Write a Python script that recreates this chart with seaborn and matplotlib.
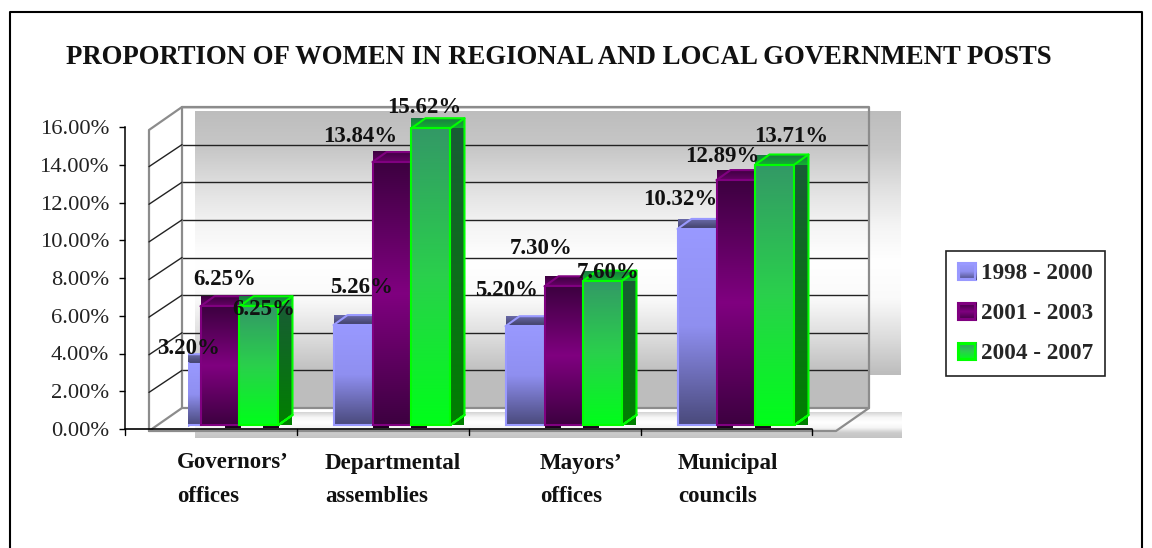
import numpy as np
import pandas as pd
import matplotlib
matplotlib.use('Agg')
import matplotlib.pyplot as plt
import seaborn as sns
from matplotlib.colors import LinearSegmentedColormap
from matplotlib.patches import Patch, Rectangle
from matplotlib.ticker import FuncFormatter

# Data
posts = ['Governors', 'Departmental', 'Mayors', 'Municipal']
periods = ['1998 - 2000', '2001 - 2003', '2004 - 2007']
share_1998 = [3.20, 5.26, 5.20, 10.32]
share_2001 = [6.25, 13.84, 7.30, 12.89]
share_2004 = [6.25, 15.62, 7.60, 13.71]
post_labels = ["Governors’\noffices", 'Departmental\nassemblies', "Mayors’\noffices", 'Municipal\ncouncils']
title = 'PROPORTION OF WOMEN IN REGIONAL AND LOCAL GOVERNMENT POSTS'

# Pixel layout of the picture
W, H = 1152, 548
px_per_group = 172
px_per_unit = 19
bar_base = 425
depth_x, depth_y = 14, 10

# Offset of every value label from the top centre of its bar, in pixels
label_offsets = [(8, 16), (5, 27), (5, -3),
                 (8, 38), (-32, 26), (-7, 21),
                 (-19, 36), (-23, 38), (5, 8),
                 (-17, 29), (-14, 24), (16, 28)]

df = pd.DataFrame({
    'post': posts * 3,
    'period': np.repeat(periods, 4),
    'share': share_1998 + share_2001 + share_2004,
})

sns.set_theme(style='white')
plt.rcParams['font.family'] = ['Liberation Serif', 'DejaVu Serif']
plt.rcParams['axes.facecolor'] = 'none'

fig = plt.figure(figsize=(W / 100, H / 100), dpi=100, facecolor='white')


def px_axes(x0, y0, x1, y1, z):
    a = fig.add_axes([x0 / W, 1 - y1 / H, (x1 - x0) / W, (y1 - y0) / H], zorder=z)
    a.patch.set_alpha(0)
    return a


def cmap(*colors):
    return LinearSegmentedColormap.from_list('c', colors)


def vgrad(a, colors, extent, z):
    g = np.linspace(0, 1, 128).reshape(-1, 1)
    a.imshow(g, cmap=cmap(*colors), extent=extent, aspect='auto', zorder=z, vmin=0, vmax=1)


# Full picture layer: border, grey band behind the wall, floor
bg = px_axes(0, 0, W, H, 0)
grey_band = ['#bdbdbd', '#c8c8c8', '#e0e0e0', '#f4f4f4', '#ffffff', '#fafafa', '#dddddd', '#bdbdbd']
vgrad(bg, grey_band, [195, 901, 375, 111], 1)
bg.add_patch(Rectangle((195, 375), 674, 33, color='#bdbdbd', lw=0, zorder=1))
vgrad(bg, ['#d4d4d4', '#f6f6f6', '#ffffff', '#f6f6f6', '#cccccc', '#c4c4c4'], [195, 902, 438, 412], 1)
bg.set_xlim(0, W)
bg.set_ylim(H, 0)
bg.axis('off')
bg.plot([10, 10, 1142, 1142], [H, 12, 12, H], color='black', lw=1.5)
bg.text(66, 57, title, fontsize=19.25, fontweight='bold', color='#111111', va='center', ha='left')

# Back wall with the gridlines
wall = px_axes(182, 107, 869, 408, 1)
wall.set_xlim(0, 1)
wall.set_ylim(0, 16)
wall.set_xticks([])
wall.set_yticks(range(0, 17, 2))
wall.tick_params(left=False, labelleft=False)
wall.grid(axis='y', color='#222222', lw=1)
wall.set_axisbelow(False)
sns.despine(ax=wall, left=True, bottom=True)

# Front scale with the tick labels
front = px_axes(125, 127, 812, 429, 2)
front.set_ylim(0, 16)
front.set_xlim(0, 1)
front.set_yticks(np.arange(0, 17, 2))
front.yaxis.set_major_formatter(FuncFormatter(lambda v, _: f'{v:.2f}%'))
front.set_xticks([])
front.tick_params(axis='y', labelsize=16.2, left=True, length=4.5, width=1, color='black', pad=7,
                  labelcolor='#222222')
front.spines['left'].set_color('black')
front.spines['left'].set_linewidth(1.1)
sns.despine(ax=front, bottom=True)

# Outline of the box, axis line, category labels
lines = px_axes(0, 0, W, H, 2)
lines.set_xlim(0, W)
lines.set_ylim(H, 0)
lines.axis('off')
grey = '#8c8c8c'
lines.plot([149, 149, 182, 869, 869], [431, 130, 107, 107, 408], color=grey, lw=1.6)
lines.plot([182, 182], [107, 408], color=grey, lw=1.6)
lines.plot([149, 182, 869, 836, 149], [431, 408, 408, 431, 431], color=grey, lw=1.6)
for v in range(2, 16, 2):
    y0 = 430 - v * 301 / 16
    lines.plot([149, 182], [y0, y0 - 22], color='#222222', lw=1)
lines.plot([125, 812], [429, 429], color='black', lw=1.2)
for x in [125, 297, 469, 641, 812]:
    lines.plot([x, x], [429, 435], color='black', lw=1)
for x, lab in zip([177, 325, 540, 678], post_labels):
    first, second = lab.split('\n')
    lines.text(x, 463, first, fontsize=16.5, fontweight='bold', color='#111111', va='center', ha='left')
    lines.text(x, 496, second, fontsize=16.5, fontweight='bold', color='#111111', va='center', ha='left')

# Bars
ax = px_axes(188, 90, 869, 440, 3)
sns.barplot(data=df, x='post', y='share', hue='period', order=posts, hue_order=periods,
            palette=['#9999ff', '#800080', '#00ff00'], width=0.68, gap=0, saturation=1,
            legend=False, ax=ax)

edges = ['#9999ff', '#800080', '#00ff00']
front_colors = [['#9999ff', '#8f8ff0', '#4a4a7c'],
                ['#3d0040', '#800080', '#3d0040'],
                ['#339966', '#2ad04c', '#00ff1a']]
top_colors = [['#6a6aa8', '#3f3f66'], ['#3d0040', '#660066'], ['#1c7a45', '#12b030']]
side_colors = [['#3f3f66', '#4a4a7c'], ['#3d0040', '#3d0040'], ['#1a5a38', '#008000']]

dx = depth_x / px_per_group
dy = depth_y / px_per_unit
for i, bars in enumerate(ax.containers):
    z = 3 + i * 3
    for j, bar in enumerate(bars):
        x0 = bar.get_x()
        x1 = x0 + bar.get_width()
        h = bar.get_height()
        # dark sliver under the front face
        if i > 0:
            s0 = x0 + (24 if j == 0 else 0) / px_per_group
            ax.add_patch(Rectangle((s0, -3 / px_per_unit), 16 / px_per_group, 3 / px_per_unit,
                                   color='#1e0020', lw=0, zorder=2))
        # side and top faces
        vgrad(ax, side_colors[i], [x1, x1 + dx, 0, h + dy], z)
        vgrad(ax, top_colors[i], [x0, x1 + dx, h, h + dy], z)
        ax.plot([x0, x0 + dx, x1 + dx, x1 + dx, x1, x1 + dx], [h, h + dy, h + dy, dy, 0, dy],
                color=edges[i], lw=1.5, zorder=z + 0.5)
        ax.plot([x1, x1 + dx], [h, h + dy], color=edges[i], lw=1.5, zorder=z + 0.5)
        # front face
        vgrad(ax, front_colors[i], [x0, x1, 0, h], z + 1)
        bar.set_facecolor('none')
        bar.set_edgecolor(edges[i])
        bar.set_linewidth(1.5)
        bar.set_zorder(z + 1.5)

ax.set_xlim((188 - 220) / px_per_group, (869 - 220) / px_per_group)
ax.set_ylim((bar_base - 440) / px_per_unit, (bar_base - 90) / px_per_unit)
ax.axis('off')
ax.plot([ax.get_xlim()[0]] * 2, [0, share_1998[0]], color=edges[0], lw=3, zorder=3.5)

# Value labels
for i, bars in enumerate(ax.containers):
    for j, bar in enumerate(bars):
        off = label_offsets[j * 3 + i]
        ax.annotate(f'{bar.get_height():.2f}%', (bar.get_x() + bar.get_width() / 2, bar.get_height()),
                    xytext=(off[0] * 0.72, off[1] * 0.72), textcoords='offset points',
                    ha='center', va='center', fontsize=16.5, fontweight='bold', color='#111111',
                    annotation_clip=False, zorder=30)

# Legend
top = px_axes(0, 0, W, H, 5)
top.axis('off')
handles = [Patch(facecolor='white', edgecolor=e, lw=1.5, label=p) for e, p in zip(edges, periods)]
leg = top.legend(handles=handles, loc='upper left', bbox_to_anchor=(946 / W, 1 - 251 / H),
                 bbox_transform=fig.transFigure, frameon=True, fancybox=False,
                 edgecolor='#222222', framealpha=1, borderaxespad=0, borderpad=0.5,
                 handlelength=0.78, handleheight=0.75, handletextpad=0.25, labelspacing=0.8,
                 prop={'weight': 'bold', 'size': 16.7})
leg.get_frame().set_linewidth(1.2)

fig.canvas.draw()
for patch, colors in zip(leg.get_patches(), front_colors):
    b = patch.get_window_extent()
    sw = fig.add_axes([b.x0 / W, b.y0 / H, b.width / W, b.height / H], zorder=60)
    vgrad(sw, colors, [0, 1, 0, 1], 1)
    sw.add_patch(Rectangle((0, 0), 1, 1, fill=False, edgecolor=patch.get_edgecolor(), lw=3))
    sw.axis('off')

fig.savefig('out.png', dpi=100)
